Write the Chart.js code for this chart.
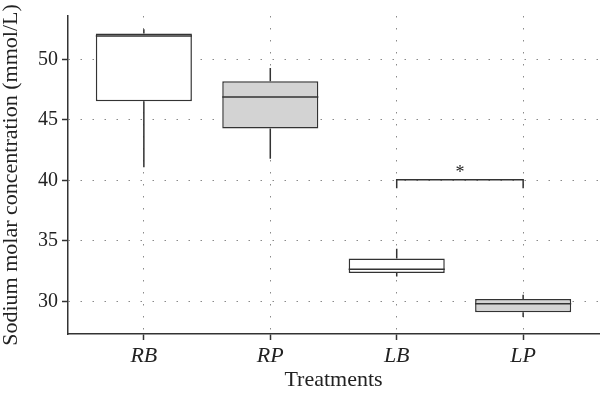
<!DOCTYPE html>
<html lang="en">
<head>
<meta charset="utf-8" />
<title>Sodium molar concentration by treatment</title>
<script src="https://cdn.jsdelivr.net/npm/chart.js/dist/chart.umd.min.js"></script>
<style>
  html, body { margin: 0; padding: 0; background: #fff; }
</style>
</head>
<body>
<canvas id="myChart" width="600" height="397"></canvas>
<script>
const treatments = ["RB", "RP", "LB", "LP"];
const whiskerLow = [41.1, 41.8, 32.05, 28.7];
const q1 = [46.55, 44.3, 32.35, 29.1];
const median = [51.95, 46.9, 32.65, 29.8];
const q3 = [52.15, 48.2, 33.55, 30.2];
const whiskerHigh = [52.5, 49.3, 34.35, 30.55];
const yTicks = [30, 35, 40, 45, 50];
// significance bracket between LB and LP
const bracket = { from: 2, to: 3, y: 40.05, drop: 0.7, label: "*" };

const serif = "'Liberation Serif', 'DejaVu Serif', serif";
const ink = "#333";

// median lines, whiskers and the bracket, all placed through the chart scales
const boxExtras = {
  id: "boxExtras",
  afterDatasetsDraw(chart) {
    const { ctx, scales: { x, y } } = chart;
    const bars = chart.getDatasetMeta(0).data;
    ctx.save();
    ctx.strokeStyle = ink;
    ctx.lineWidth = 1.5;
    treatments.forEach((t, i) => {
      const cx = x.getPixelForValue(i);
      const half = bars[i].width / 2;
      ctx.beginPath();
      ctx.moveTo(cx - half, y.getPixelForValue(median[i]));
      ctx.lineTo(cx + half, y.getPixelForValue(median[i]));
      ctx.moveTo(cx, y.getPixelForValue(q3[i]));
      ctx.lineTo(cx, y.getPixelForValue(whiskerHigh[i]));
      ctx.moveTo(cx, y.getPixelForValue(q1[i]));
      ctx.lineTo(cx, y.getPixelForValue(whiskerLow[i]));
      ctx.stroke();
    });

    const bx1 = x.getPixelForValue(bracket.from);
    const bx2 = x.getPixelForValue(bracket.to);
    const by = y.getPixelForValue(bracket.y);
    const byDrop = y.getPixelForValue(bracket.y - bracket.drop);
    ctx.beginPath();
    ctx.moveTo(bx1, byDrop);
    ctx.lineTo(bx1, by);
    ctx.lineTo(bx2, by);
    ctx.lineTo(bx2, byDrop);
    ctx.stroke();

    ctx.fillStyle = "#222";
    ctx.font = "18px " + serif;
    ctx.textAlign = "center";
    ctx.textBaseline = "alphabetic";
    ctx.fillText(bracket.label, (bx1 + bx2) / 2, by - 2);
    ctx.restore();
  }
};

const data = {
  datasets: [{
    data: treatments.map((t, i) => ({ x: i, y: [q1[i], q3[i]] })),
    backgroundColor: treatments.map(t => t.endsWith("P") ? "#d3d3d3" : "#ffffff"),
    borderColor: ink,
    borderWidth: 1.5,
    borderSkipped: false,
    categoryPercentage: 1,
    barPercentage: 0.76
  }]
};

const config = {
  type: "bar",
  data,
  options: {
    responsive: false,
    animation: false,
    layout: { padding: { top: 13, right: 1, left: 0, bottom: 0 } },
    plugins: { legend: { display: false }, tooltip: { enabled: false } },
    scales: {
      x: {
        type: "linear",
        min: -0.6,
        max: 3.6,
        offset: false,
        afterBuildTicks: s => { s.ticks = treatments.map((t, i) => ({ value: i })); },
        afterFit: s => { s.height = 63; },
        ticks: {
          callback: v => treatments[v],
          font: { family: serif, size: 22, style: "italic" },
          color: "#222",
          padding: 3,
          maxRotation: 0
        },
        grid: { offset: false, color: "#8a8a8a", lineWidth: 1, tickLength: 6, tickColor: ink, tickWidth: 1.5 },
        border: { display: true, color: ink, width: 1.5, dash: [1.5, 10.5] },
        title: {
          display: true,
          text: "Treatments",
          font: { family: serif, size: 22 },
          color: "#222",
          padding: { top: 0, bottom: 4 }
        }
      },
      y: {
        min: 27.3,
        max: 53.6,
        afterBuildTicks: s => { s.ticks = yTicks.map(v => ({ value: v })); },
        afterFit: s => { s.width = 68; },
        ticks: {
          font: { family: serif, size: 20 },
          color: "#222",
          padding: 4
        },
        grid: { color: "#8a8a8a", lineWidth: 1, tickLength: 6, tickColor: ink, tickWidth: 1.5 },
        border: { display: true, color: ink, width: 1.5, dash: [1.5, 10.5] },
        title: {
          display: true,
          text: "Sodium molar concentration (mmol/L)",
          font: { family: serif, size: 22, lineHeight: 1 },
          color: "#222",
          padding: { top: 0, bottom: 0 }
        }
      }
    }
  },
  plugins: [boxExtras]
};

const myChart = new Chart(document.getElementById("myChart"), config);
</script>
</body>
</html>
